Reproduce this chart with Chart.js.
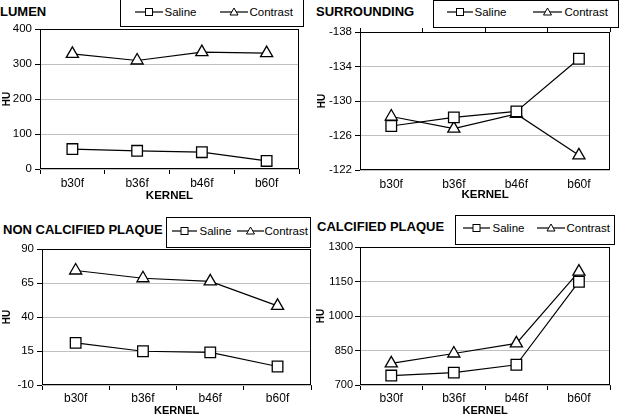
<!DOCTYPE html>
<html><head><meta charset="utf-8">
<script src="https://cdn.jsdelivr.net/npm/chart.js@4/dist/chart.umd.min.js"></script>
<style>
body{margin:0;background:#fff;width:619px;height:418px;position:relative;overflow:hidden;font-family:"Liberation Sans",Arial,sans-serif;}
.title{position:absolute;font-weight:bold;font-size:13px;line-height:15px;color:#000;white-space:nowrap;}
.legend{position:absolute;border:1.5px solid #000;box-sizing:border-box;background:#fff;}
.legend span{position:absolute;font-size:11.5px;line-height:14px;white-space:nowrap;color:#000}
.legend svg{position:absolute;overflow:visible}
canvas{position:absolute}
</style></head>
<body>
<div class="title" style="left:0;top:4px">LUMEN</div>
<div class="title" style="left:316px;top:4px">SURROUNDING</div>
<div class="title" style="left:3px;top:222px">NON CALCIFIED PLAQUE</div>
<div class="title" style="left:317px;top:219px">CALCIFIED PLAQUE</div>
<canvas id="c1" width="310" height="209" style="left:0;top:0"></canvas>
<canvas id="c2" width="309" height="209" style="left:310px;top:0"></canvas>
<canvas id="c3" width="320" height="209" style="left:0;top:209px"></canvas>
<canvas id="c4" width="307" height="209" style="left:312px;top:209px"></canvas>
<script>
// ---- data ----
const kernels = ['b30f', 'b36f', 'b46f', 'b60f'];
const seriesNames = ['Saline', 'Contrast'];
const lumenSaline = [57, 52, 48, 23];
const lumenContrast = [329, 310, 334, 331];
const surroundingSaline = [-127.1, -128.1, -128.8, -134.9];
const surroundingContrast = [-128.2, -126.8, -128.5, -123.7];
const nonCalcSaline = [21, 14.8, 14, 3.6];
const nonCalcContrast = [74.2, 68.5, 66.2, 48.2];
const calcSaline = [741, 754, 788, 1149];
const calcContrast = [794, 837, 881, 1193];
const lumenTicks = [0, 100, 200, 300, 400];
const surroundingTicks = [-138, -134, -130, -126, -122];
const nonCalcTicks = [-10, 15, 40, 65, 90];
const calcTicks = [700, 850, 1000, 1150, 1300];
const xTitle = 'KERNEL';
const yTitle = 'HU';

// ---- legends ----
function legend(box, lines, texts, cy) {
  const d = document.createElement('div');
  d.className = 'legend';
  d.style.left = box[0] + 'px'; d.style.top = box[1] + 'px';
  d.style.width = box[2] + 'px'; d.style.height = box[3] + 'px';
  const ox = box[0] + 1.5, oy = box[1] + 1.5;
  const ns = 'http://www.w3.org/2000/svg';
  seriesNames.forEach((name, i) => {
    const svg = document.createElementNS(ns, 'svg');
    const w = lines[i][1] - lines[i][0];
    svg.setAttribute('width', w); svg.setAttribute('height', 12);
    svg.style.left = (lines[i][0] - ox) + 'px'; svg.style.top = (cy - 6 - oy) + 'px';
    const ln = document.createElementNS(ns, 'line');
    ln.setAttribute('x1', 0); ln.setAttribute('x2', w); ln.setAttribute('y1', 6); ln.setAttribute('y2', 6);
    ln.setAttribute('stroke', '#000'); ln.setAttribute('stroke-width', 1.2);
    svg.appendChild(ln);
    const m = w / 2;
    let mk;
    if (i === 0) {
      mk = document.createElementNS(ns, 'rect');
      mk.setAttribute('x', m - 3.5); mk.setAttribute('y', 2.5); mk.setAttribute('width', 7); mk.setAttribute('height', 7);
    } else {
      mk = document.createElementNS(ns, 'polygon');
      mk.setAttribute('points', `${m},2 ${m + 4},9 ${m - 4},9`);
    }
    mk.setAttribute('fill', '#fff'); mk.setAttribute('stroke', '#000'); mk.setAttribute('stroke-width', 1);
    svg.appendChild(mk);
    d.appendChild(svg);
    const s = document.createElement('span');
    s.textContent = name;
    s.style.left = (texts[i] - ox) + 'px'; s.style.top = (cy - 7 - oy) + 'px';
    d.appendChild(s);
  });
  document.body.appendChild(d);
}
legend([120, -1, 184, 28], [[135, 163], [220, 248]], [165, 250], 12);
legend([433, 0, 186, 28], [[447, 473], [533, 562]], [475, 565], 12);
legend([166, 217, 145, 31], [[172, 197], [237, 264]], [200, 265], 231);
legend([455, 215, 160, 30], [[463, 490], [537, 565]], [493, 567], 228);

// ---- charts ----
const framePlugin = {
  id: 'frame',
  beforeDatasetsDraw(chart) {
    const a = chart.chartArea, ctx = chart.ctx;
    ctx.save();
    ctx.strokeStyle = '#000'; ctx.lineWidth = 1;
    ctx.strokeRect(Math.round(a.left) + 0.5, Math.round(a.top) + 0.5,
      Math.round(a.right - a.left) - 1, Math.round(a.bottom - a.top) - 1);
    ctx.restore();
  }
};

function makeChart(id, saline, contrast, ticks, cfg) {
  const scales = {
    x: {
      type: 'category', offset: true, position: 'bottom',
      border: { display: false },
      grid: { drawOnChartArea: false, offset: true, tickColor: '#000', tickLength: 5, drawTicks: !cfg.topAxis },
      ticks: { color: '#000', font: { family: 'Liberation Sans', size: 12 }, padding: cfg.xPad, maxRotation: 0, autoSkip: false },
      title: { display: true, text: xTitle, color: '#000', font: { family: 'Liberation Sans', size: cfg.xtSize || 11.5, weight: 'bold' }, padding: { top: 0, bottom: cfg.xtPad } },
      afterFit: s => { s.height = cfg.xH; }
    },
    y: {
      min: ticks[0], max: ticks[ticks.length - 1], reverse: !!cfg.reverse,
      afterBuildTicks: s => { s.ticks = ticks.map(v => ({ value: v })); },
      border: { display: false },
      grid: { color: '#c0c0c0', tickColor: '#000', tickLength: 5, lineWidth: 1 },
      ticks: { color: '#000', font: { family: 'Liberation Sans', size: cfg.ySize || 11.5 }, padding: cfg.yPad || 3, callback: v => String(v) },
      title: { display: true, text: yTitle, color: '#000', font: { family: 'Liberation Sans', size: 10, weight: 'bold' }, padding: { top: cfg.ytPad, bottom: 0 } },
      afterFit: s => { s.width = cfg.yW; }
    }
  };
  if (cfg.topAxis) {
    scales.x2 = {
      type: 'category', offset: true, position: 'top',
      border: { display: false },
      grid: { drawOnChartArea: false, offset: true, tickColor: '#000', tickLength: 4 },
      ticks: { display: false },
      afterFit: s => { s.height = cfg.topAxis; }
    };
  }
  const mk = (label, data, style, r) => ({
    label, data, pointStyle: style, pointRadius: r, pointHoverRadius: r,
    borderColor: '#000', borderWidth: 1.2, backgroundColor: '#fff',
    pointBackgroundColor: '#fff', pointBorderColor: '#000', pointBorderWidth: 1.3,
    tension: 0, fill: false, clip: false
  });
  new Chart(document.getElementById(id), {
    type: 'line',
    data: { labels: kernels, datasets: [mk(seriesNames[0], saline, 'rect', 7.5), mk(seriesNames[1], contrast, 'triangle', 7)] },
    options: {
      responsive: false, animation: false, devicePixelRatio: 1,
      layout: { padding: cfg.pad },
      plugins: { legend: { display: false }, tooltip: { enabled: false }, title: { display: false } },
      scales
    },
    plugins: [framePlugin]
  });
}

makeChart('c1', lumenSaline, lumenContrast, lumenTicks,
  { pad: { left: 0, top: 29, right: 11, bottom: 0 }, yW: 40, xH: 40, xPad: 2, xtPad: 6, ytPad: 1.5 });
makeChart('c2', surroundingSaline, surroundingContrast, surroundingTicks,
  { pad: { left: 0, top: 0, right: 2, bottom: 0 }, yW: 50, xH: 39, xPad: 7, xtPad: 7, ytPad: 6, reverse: true, topAxis: 32 });
makeChart('c3', nonCalcSaline, nonCalcContrast, nonCalcTicks,
  { pad: { left: 0, top: 40, right: 8, bottom: 0 }, yW: 42, xH: 33, xPad: 1, xtPad: 0, xtSize: 11, ytPad: 1 });
makeChart('c4', calcSaline, calcContrast, calcTicks,
  { pad: { left: 0, top: 38, right: 8, bottom: 0 }, yW: 48, xH: 33, xPad: 1, xtPad: 0, xtSize: 11, ytPad: 3, yPad: 2, ySize: 11 });
</script>
</body></html>
